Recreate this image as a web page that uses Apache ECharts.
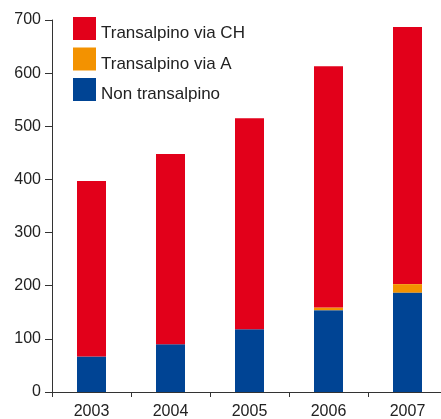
<!DOCTYPE html>
<html>
<head>
<meta charset="utf-8">
<style>
  html, body { margin: 0; padding: 0; background: #fff; }
  #chart { width: 441px; height: 419px; }
</style>
<script src="https://cdn.jsdelivr.net/npm/echarts@6/dist/echarts.min.js"></script>
</head>
<body>
<div id="chart"></div>
<script>
const years = ['2003', '2004', '2005', '2006', '2007']
const nonTransalpino = [67, 90, 118, 154, 187]
const transalpinoA = [0, 0, 0, 5, 16]
const transalpinoCH = [330, 358, 397, 454, 484]
const yTicks = { min: 0, max: 700, interval: 100 }

const font = 'Liberation Sans, Arial, sans-serif'
const chart = echarts.init(document.getElementById('chart'))

const bar = (name, data, color) => ({
  name,
  type: 'bar',
  stack: 'total',
  barWidth: 29,
  itemStyle: { color },
  emphasis: { disabled: true },
  data
})

chart.setOption({
  animation: false,
  textStyle: { fontFamily: font },
  legend: {
    orient: 'vertical',
    left: 73,
    top: 17,
    padding: 0,
    itemWidth: 23,
    itemHeight: 23,
    itemGap: 5.5,
    icon: 'rect',
    formatter: (name) => `{t|${name}}`,
    textStyle: {
      fontSize: 17,
      color: '#222',
      fontFamily: font,
      rich: { t: { fontSize: 17, color: '#222', fontFamily: font, padding: [10, 0, 0, 0] } }
    },
    data: ['Transalpino via CH', 'Transalpino via A', 'Non transalpino']
  },
  grid: { left: 52, right: -6, top: 20, bottom: 27, containLabel: false, outerBoundsMode: 'none' },
  xAxis: {
    type: 'category',
    data: years,
    axisLine: { lineStyle: { color: '#333', width: 1 } },
    axisTick: { show: true, length: 5, lineStyle: { color: '#333' } },
    axisLabel: { fontSize: 16, color: '#222', margin: 12, fontFamily: font }
  },
  yAxis: {
    type: 'value',
    min: yTicks.min,
    max: yTicks.max,
    interval: yTicks.interval,
    splitLine: { show: false },
    axisLine: { show: true, lineStyle: { color: '#333', width: 1 } },
    axisTick: { show: true, length: 7, lineStyle: { color: '#333' } },
    axisLabel: { fontSize: 16, color: '#222', margin: 11, fontFamily: font }
  },
  series: [
    bar('Non transalpino', nonTransalpino, '#004494'),
    bar('Transalpino via A', transalpinoA, '#F39200'),
    bar('Transalpino via CH', transalpinoCH, '#E2001A')
  ]
})
</script>
</body>
</html>
